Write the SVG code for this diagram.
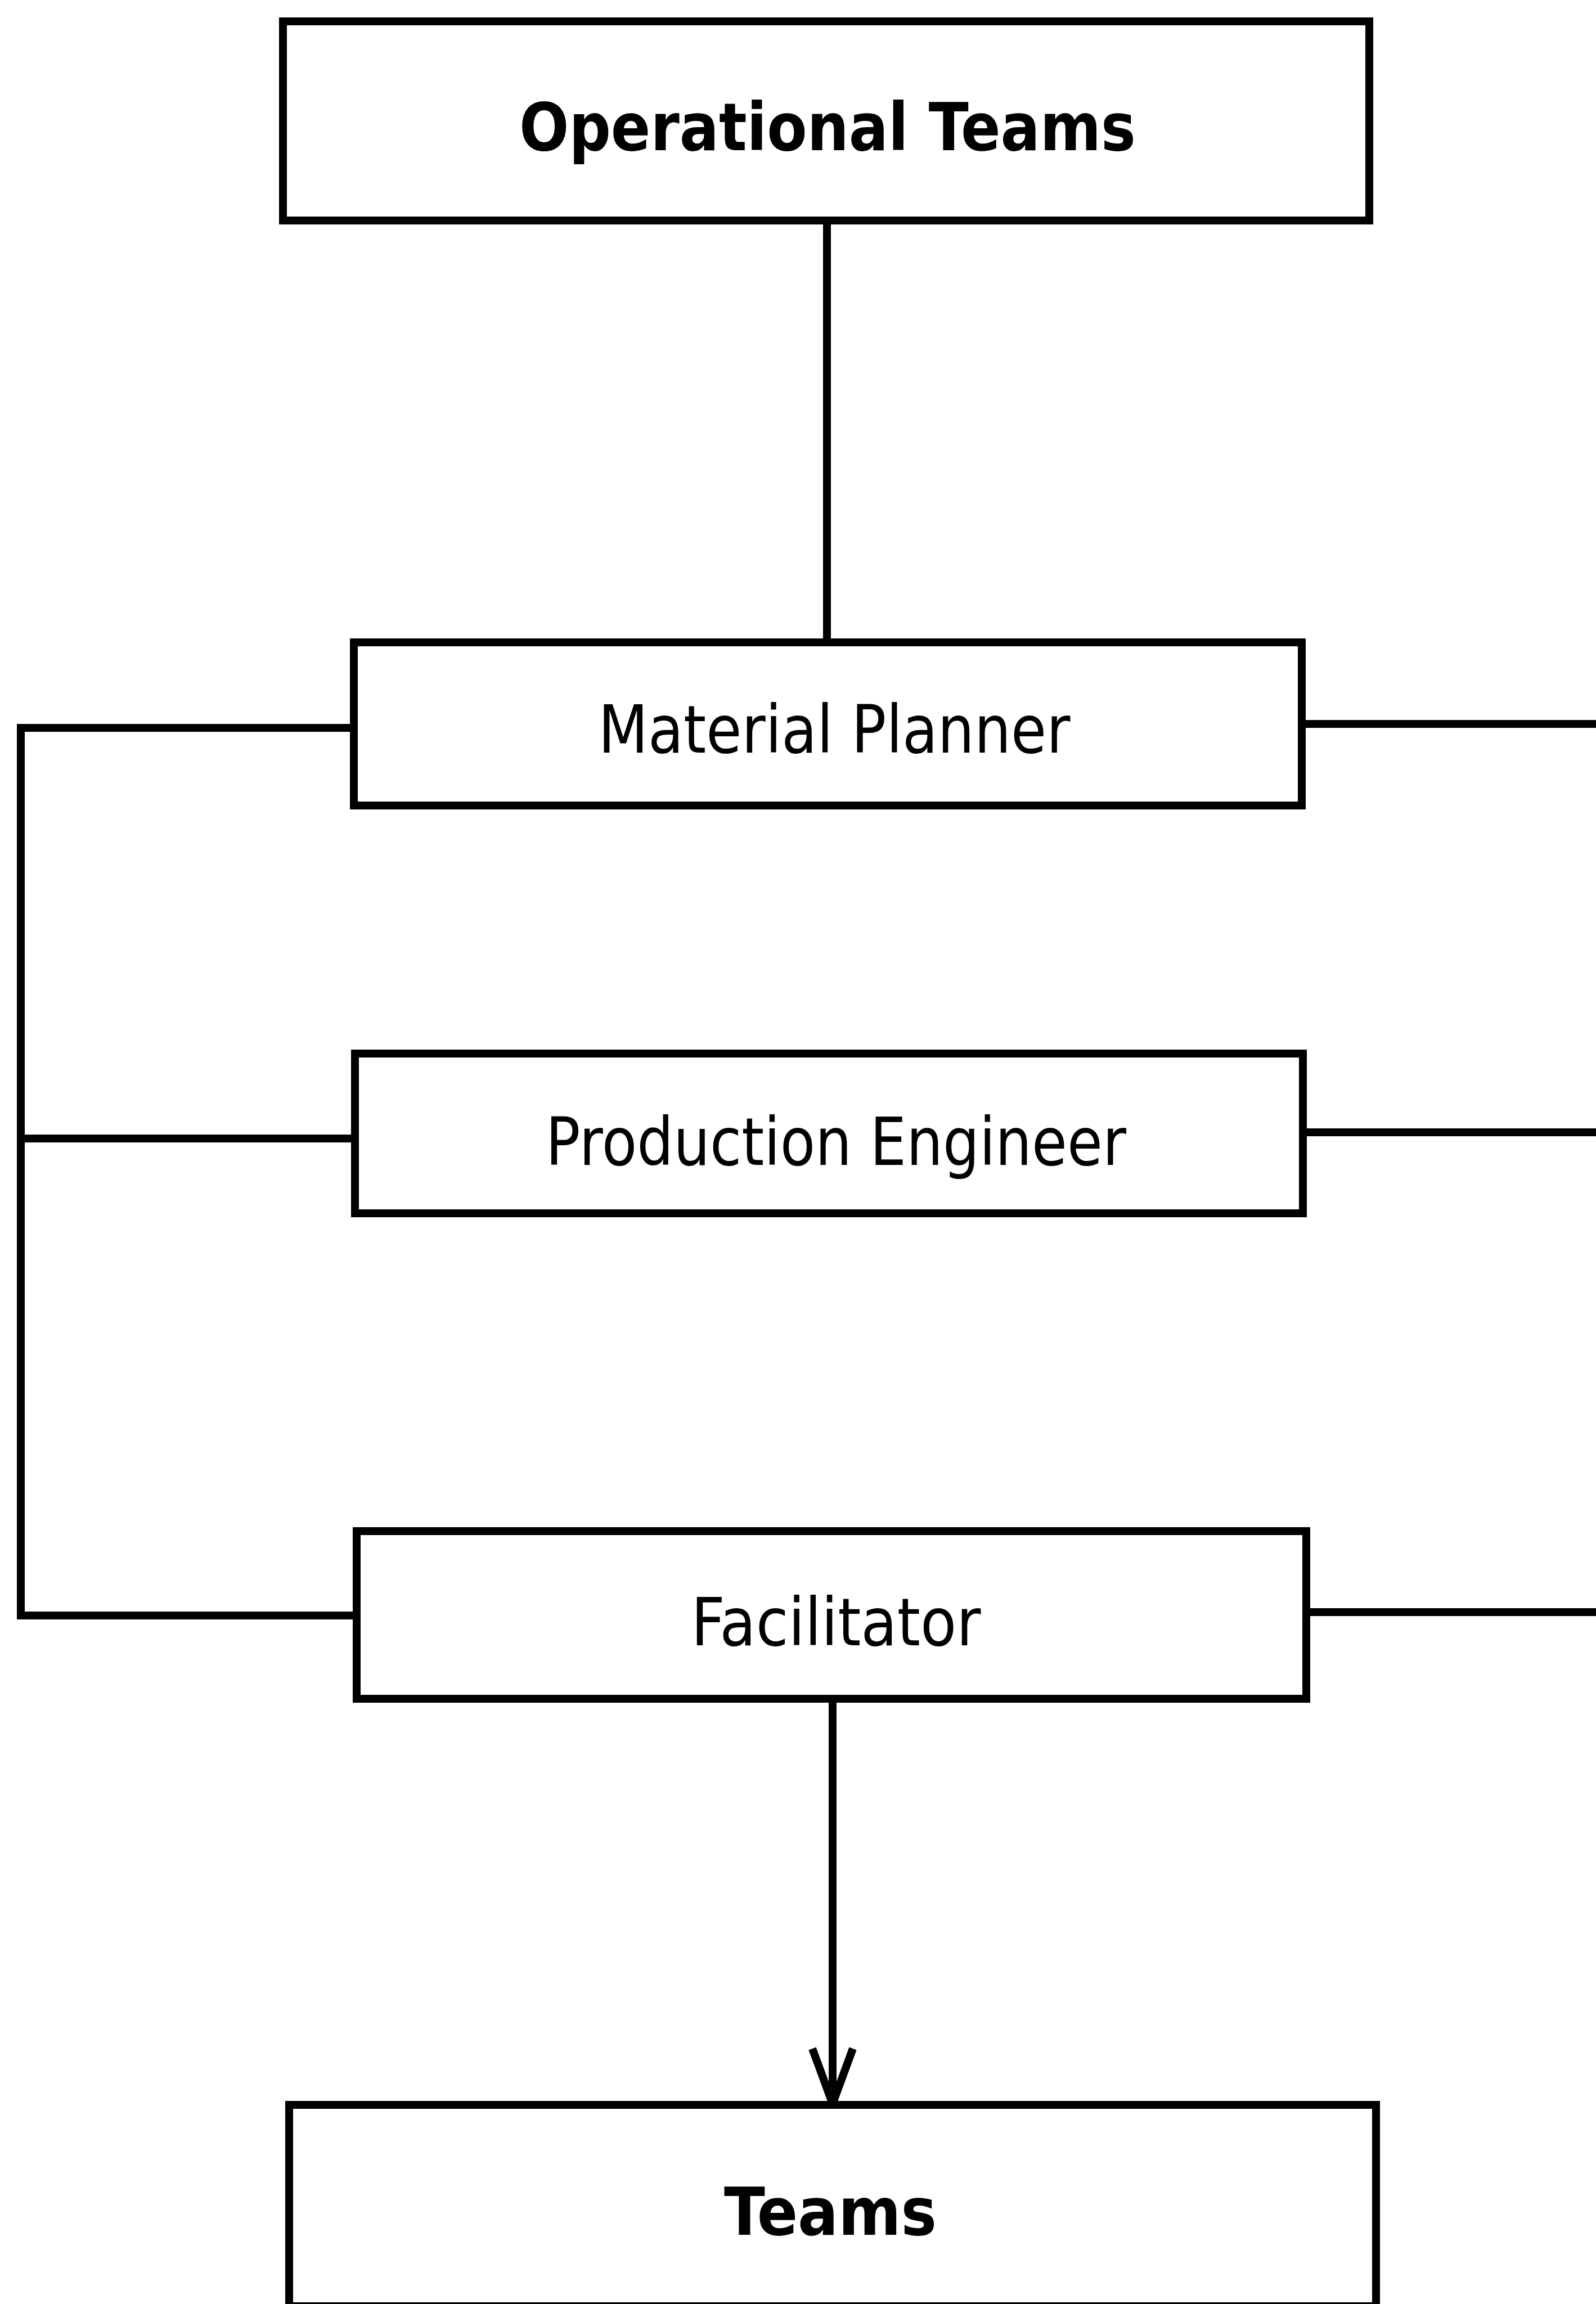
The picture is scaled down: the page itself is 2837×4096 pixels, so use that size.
<svg xmlns="http://www.w3.org/2000/svg" width="2837" height="4096" viewBox="0 0 2837 4096">
  <style>
    .box { fill: #fff; stroke: #000; stroke-width: 14; }
    .wire { fill: none; stroke: #000; stroke-width: 14; stroke-linecap: square; }
    .label { font-family: "DejaVu Sans", Verdana, sans-serif; font-size: 118px; fill: #000; text-anchor: middle; }
    .bold { font-weight: bold; }
  </style>
  <defs>
    <!-- open V arrowhead, drawn pointing along +x so orient="auto" turns it with the line -->
    <marker id="vee" markerUnits="userSpaceOnUse" markerWidth="120" markerHeight="100" refX="108" refY="50" orient="auto" viewBox="0 0 120 100">
      <path d="M8 14 L106 50 L8 86" fill="none" stroke="#000" stroke-width="14" stroke-linejoin="miter" stroke-miterlimit="10"/>
    </marker>
  </defs>
  <rect width="2837" height="4096" fill="#fff"/>

  <g id="connectors">
    <!-- trunk from the top box down to Material Planner -->
    <line class="wire" x1="1470" y1="392" x2="1470" y2="1142"/>
    <!-- left bus tying the three roles together -->
    <polyline class="wire" points="629,1294 37,1294 37,2872 634,2872"/>
    <line class="wire" x1="37" y1="2024" x2="631" y2="2024"/>
    <!-- right-hand leads running off the edge -->
    <line class="wire" x1="2314" y1="1287" x2="2850" y2="1287"/>
    <line class="wire" x1="2316" y1="2013" x2="2850" y2="2013"/>
    <line class="wire" x1="2322" y1="2866" x2="2850" y2="2866"/>
    <!-- Facilitator to Teams -->
    <line x1="1480" y1="3020" x2="1480" y2="3742" stroke="#000" stroke-width="14" marker-end="url(#vee)"/>
  </g>

  <g id="node-operational-teams">
    <rect class="box" x="503" y="38" width="1931" height="354"/>
    <text class="label bold" x="1471" y="267" textLength="1096" lengthAdjust="spacingAndGlyphs">Operational Teams</text>
  </g>

  <g id="node-material-planner">
    <rect class="box" x="629" y="1142" width="1685" height="290"/>
    <text class="label" x="1483" y="1338" textLength="839" lengthAdjust="spacingAndGlyphs">Material Planner</text>
  </g>

  <g id="node-production-engineer">
    <rect class="box" x="631" y="1873" width="1685" height="284"/>
    <text class="label" x="1486" y="2071" textLength="1032" lengthAdjust="spacingAndGlyphs">Production Engineer</text>
  </g>

  <g id="node-facilitator">
    <rect class="box" x="634" y="2722" width="1688" height="298"/>
    <text class="label" x="1486" y="2925" textLength="515" lengthAdjust="spacingAndGlyphs">Facilitator</text>
  </g>

  <g id="node-teams">
    <rect class="box" x="514" y="3742" width="1932" height="358"/>
    <text class="label bold" x="1476" y="3973" textLength="378" lengthAdjust="spacingAndGlyphs">Teams</text>
  </g>
</svg>
